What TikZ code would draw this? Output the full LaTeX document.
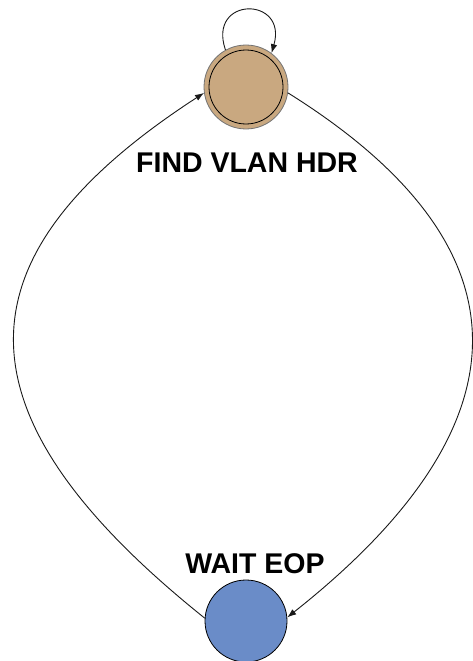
\documentclass[tikz,border=0pt]{standalone}
\usepackage{fontspec}
\setmainfont{Liberation Sans}
\usetikzlibrary{arrows.meta,positioning}
\definecolor{findtan}{RGB}{201,168,128}
\definecolor{waitblue}{RGB}{106,140,200}

\begin{document}
\begin{tikzpicture}[x=1pt, y=-1pt, >={Latex[length=9pt,width=6.5pt]},
  every node/.style={font=\fontsize{28.5}{30}\selectfont\bfseries},
  state/.style={draw, circle, inner sep=0pt, line width=0.8pt},
  lbl/.style={inner sep=0pt},
  edge/.style={->, draw=black!90, line width=0.9pt}]
\useasboundingbox (0,0) rectangle (472,661);
\node[state, minimum size=84pt, fill=findtan, draw=black!55,
  path picture={\draw[black, line width=0.8pt] (path picture bounding box.center) circle (37pt);}] (find) at (246,87) {};
\node[state, minimum size=82pt, fill=waitblue] (wait) at (246,621) {};
\node[lbl, below=23pt of find, xshift=1pt] (findlbl) {FIND VLAN HDR};
\node[lbl, above=6pt of wait, xshift=9pt] (waitlbl) {WAIT EOP};
% transitions
\draw[edge] (find.119) .. controls (207,-4) and (288,-4) .. (find.53);
\draw[edge] (find.352) .. controls (533,246) and (533,423) .. (wait.5);
\draw[edge] (wait.176) .. controls (-49,415) and (-49,257) .. (find.188);
\end{tikzpicture}
\end{document}
